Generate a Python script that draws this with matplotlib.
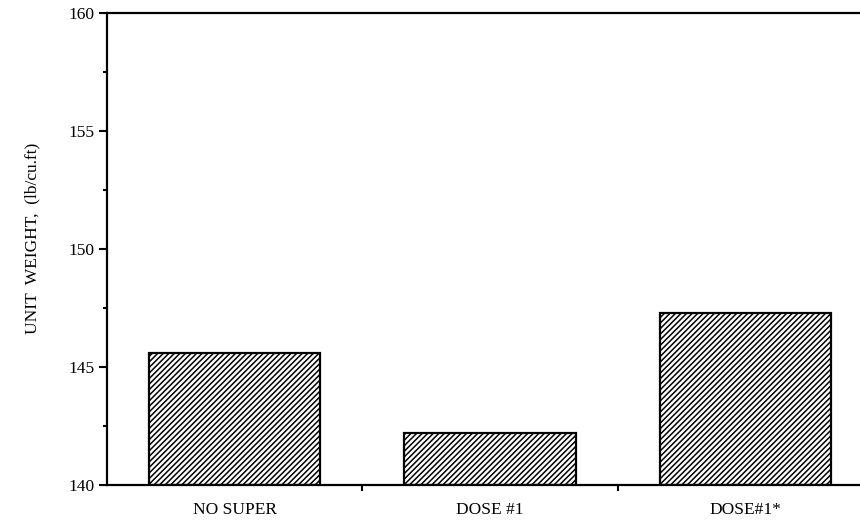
import numpy as np
import matplotlib
matplotlib.use("Agg")
import matplotlib.pyplot as plt
from matplotlib.ticker import MultipleLocator

# values
categories = ['NO SUPER', 'DOSE #1', 'DOSE#1*']
unit_weight = [145.6, 142.2, 147.3]

plt.rcParams['font.family'] = ['Liberation Serif', 'DejaVu Serif']
plt.rcParams['hatch.linewidth'] = 1.1

fig = plt.figure(figsize=(8.6, 5.22), dpi=100)
ax = fig.add_axes([107/860, 1 - 485/522, (873 - 107)/860, (485 - 13)/522])

x = np.arange(len(categories))
ax.bar(x, [v - 140 for v in unit_weight], bottom=140, width=0.67,
       facecolor='white', edgecolor='black', linewidth=1.6, hatch='//////')

ax.set_ylim(140, 160)
ax.set_xlim(-0.5, len(categories) - 0.5)
ax.yaxis.set_major_locator(MultipleLocator(5))
ax.yaxis.set_minor_locator(MultipleLocator(2.5))
ax.set_xticks(x)
ax.set_xticklabels(categories, fontsize=12.5)
ax.set_xticks(x[:-1] + 0.5, minor=True)

ax.tick_params(axis='y', which='major', direction='out', length=6, width=1.5,
               labelsize=12.5, pad=3)
ax.tick_params(axis='y', which='minor', direction='out', length=3, width=1.5)
ax.tick_params(axis='x', which='major', length=0, pad=12)
ax.tick_params(axis='x', which='minor', direction='out', length=4, width=1.5)

for side in ['left', 'bottom', 'top']:
    ax.spines[side].set_linewidth(1.6)
ax.spines['right'].set_visible(False)

ax.set_ylabel('UNIT  WEIGHT,  (lb/cu.ft)', fontsize=12.5)
ax.yaxis.set_label_coords(-0.087, 0.523)

fig.savefig('out.png', dpi=100)
